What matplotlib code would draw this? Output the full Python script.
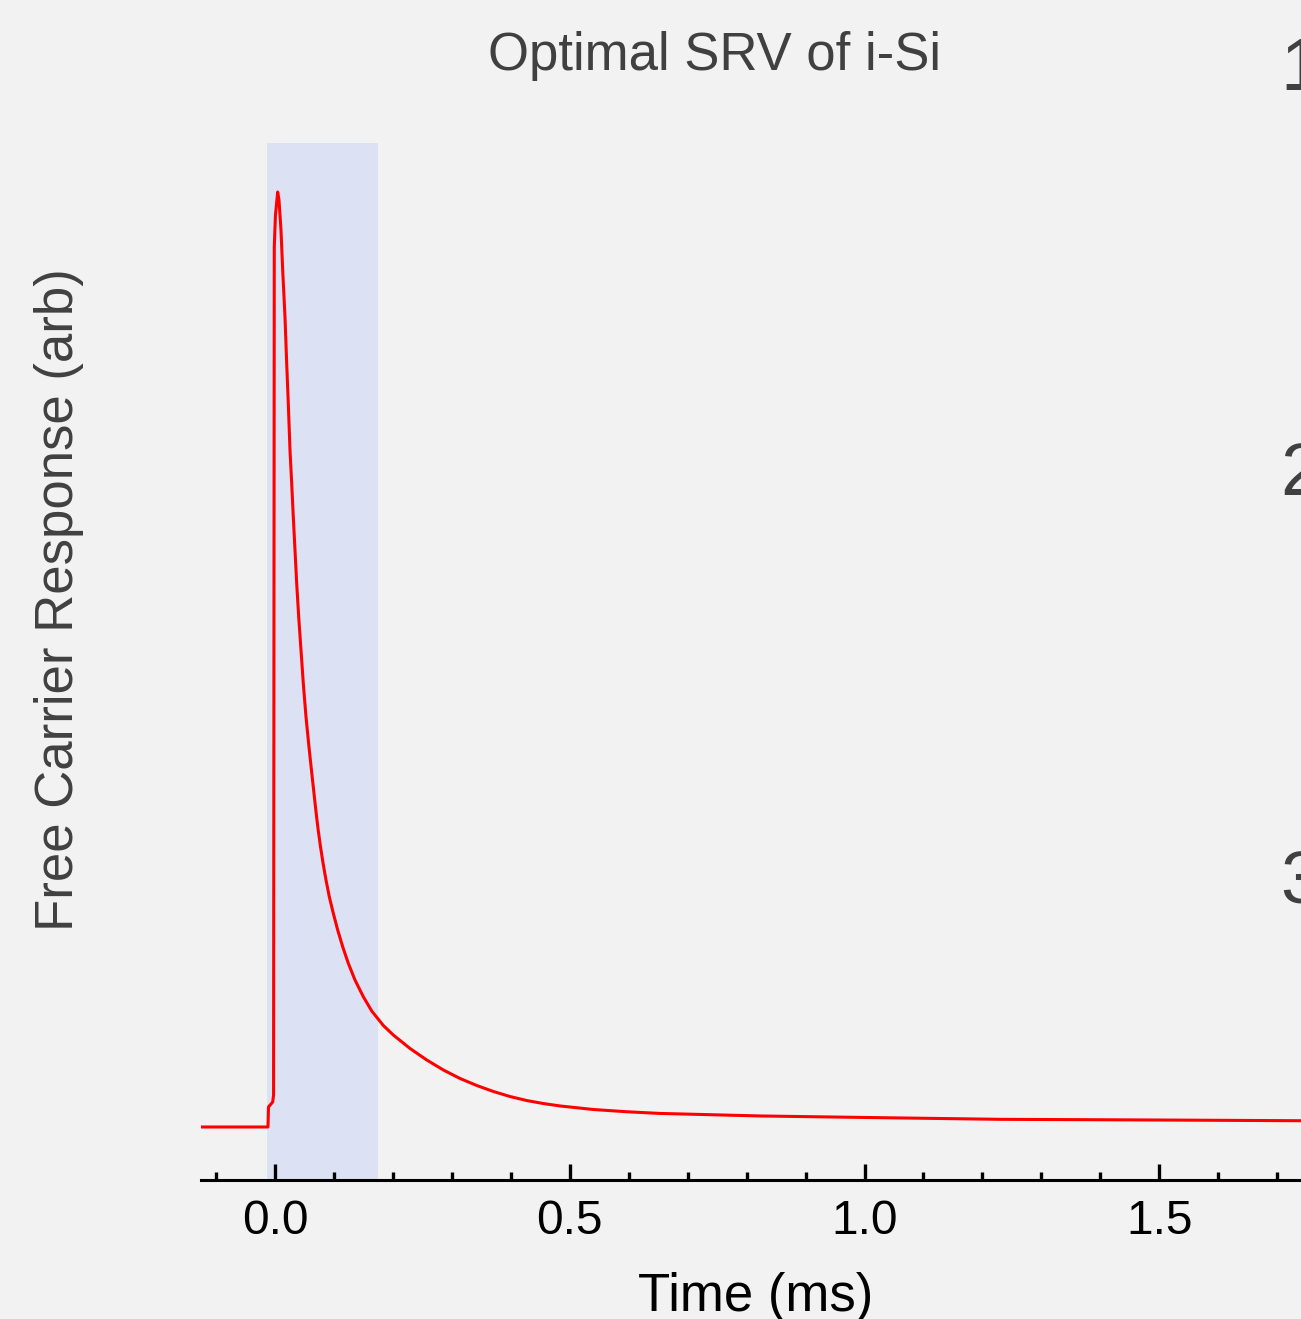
from __future__ import annotations

import matplotlib

matplotlib.use("Agg")
import matplotlib.pyplot as plt
from matplotlib.ticker import MultipleLocator


# transient (time in ms, signal normalised to peak)
TIME_MS = [
    -0.127, -0.0119, -0.0110, -0.0039, -0.0024, -0.0012, 0.0008, 0.00458,
    0.00679, 0.01018, 0.01306, 0.01696, 0.01985, 0.02256, 0.02545, 0.02833,
    0.03104, 0.03393, 0.03681, 0.04020, 0.04411, 0.04801, 0.05259, 0.05818,
    0.06395, 0.06684, 0.06989, 0.07328, 0.07718, 0.08160, 0.08651, 0.09211,
    0.09890, 0.10636, 0.11484, 0.12434, 0.13571, 0.14979, 0.16404, 0.18370,
    0.20068, 0.22901, 0.25734, 0.28550, 0.31383, 0.34216, 0.37031, 0.39864,
    0.42697, 0.45513, 0.48346, 0.53995, 0.59661, 0.65310, 0.8227, 0.9992,
    1.2299, 1.4843, 1.7405, 1.7600,
]
RESPONSE = [
    0.0, 0.0, 0.0214, 0.0267, 0.0342, 0.9412, 0.9754, 1.0,
    0.9914, 0.9594, 0.9166, 0.8666, 0.8168, 0.7740, 0.7241, 0.6885,
    0.6527, 0.6171, 0.5815, 0.5458, 0.5102, 0.4745, 0.4388, 0.4032,
    0.3696, 0.3529, 0.3355, 0.3176, 0.2998, 0.2820, 0.2642, 0.2463,
    0.2286, 0.2107, 0.1928, 0.1751, 0.1572, 0.1394, 0.1241, 0.1086,
    0.0984, 0.0840, 0.0717, 0.0610, 0.0519, 0.0444, 0.0380, 0.0326,
    0.0283, 0.0251, 0.0225, 0.0187, 0.0163, 0.0145, 0.0118, 0.0102,
    0.0082, 0.0075, 0.0067, 0.0066,
]
PUMP_WINDOW = [-0.0131, 0.1744]
X_TICKS = [0.0, 0.5, 1.0, 1.5]
SIDE_LABELS = ["1", "2", "3"]

W, H = 1301, 1319
BG = "#f2f2f2"
GREY = "#404040"
FONT = ["Liberation Sans", "DejaVu Sans"]


def px_x(x: float) -> float:
    return x / W


def px_y(y: float) -> float:
    return 1.0 - y / H


def main() -> None:
    plt.rcParams["font.family"] = FONT

    fig = plt.figure(figsize=(W / 100, H / 100), dpi=100, facecolor=BG)
    ax = fig.add_axes([px_x(201), px_y(1180), px_x(1309 - 201), (1180 - 143) / H])
    ax.set_facecolor(BG)

    ax.axvspan(*PUMP_WINDOW, color="#dce1f3", lw=0, zorder=1)
    ax.plot(TIME_MS, RESPONSE, color="#ff0000", lw=2.2, zorder=3,
            solid_joinstyle="round")

    ax.set_xlim(-0.1255, 1.754)
    ax.set_ylim(-0.0567, 1.0524)

    for side in ("left", "right", "top"):
        ax.spines[side].set_visible(False)
    ax.spines["bottom"].set_linewidth(2.2)
    ax.spines["bottom"].set_color("black")

    ax.set_yticks([])
    ax.set_xticks(X_TICKS)
    ax.set_xticklabels([f"{t:.1f}" for t in X_TICKS])
    ax.xaxis.set_minor_locator(MultipleLocator(0.1))
    ax.tick_params(axis="x", which="major", direction="in", length=11.5, width=2.4,
                   labelsize=34.5, pad=13.5, colors="black")
    ax.tick_params(axis="x", which="minor", direction="in", length=6.0, width=2.4)

    fig.text(px_x(715), px_y(70), "Optimal SRV of i-Si", ha="center", va="baseline",
             fontsize=38, color=GREY)
    fig.text(px_x(756), px_y(1311), "Time (ms)", ha="center", va="baseline",
             fontsize=38, color="black")
    fig.text(px_x(59), px_y(600), "Free Carrier Response (arb)", rotation=90,
             ha="center", va="center", fontsize=38, color=GREY)

    for label, base in zip(SIDE_LABELS, [90, 495, 904]):
        fig.text(px_x(1280), px_y(base), label, ha="left", va="baseline",
                 fontsize=53, color=GREY)

    fig.savefig("out.png", dpi=100, facecolor=BG)
    plt.close(fig)


if __name__ == "__main__":
    main()
